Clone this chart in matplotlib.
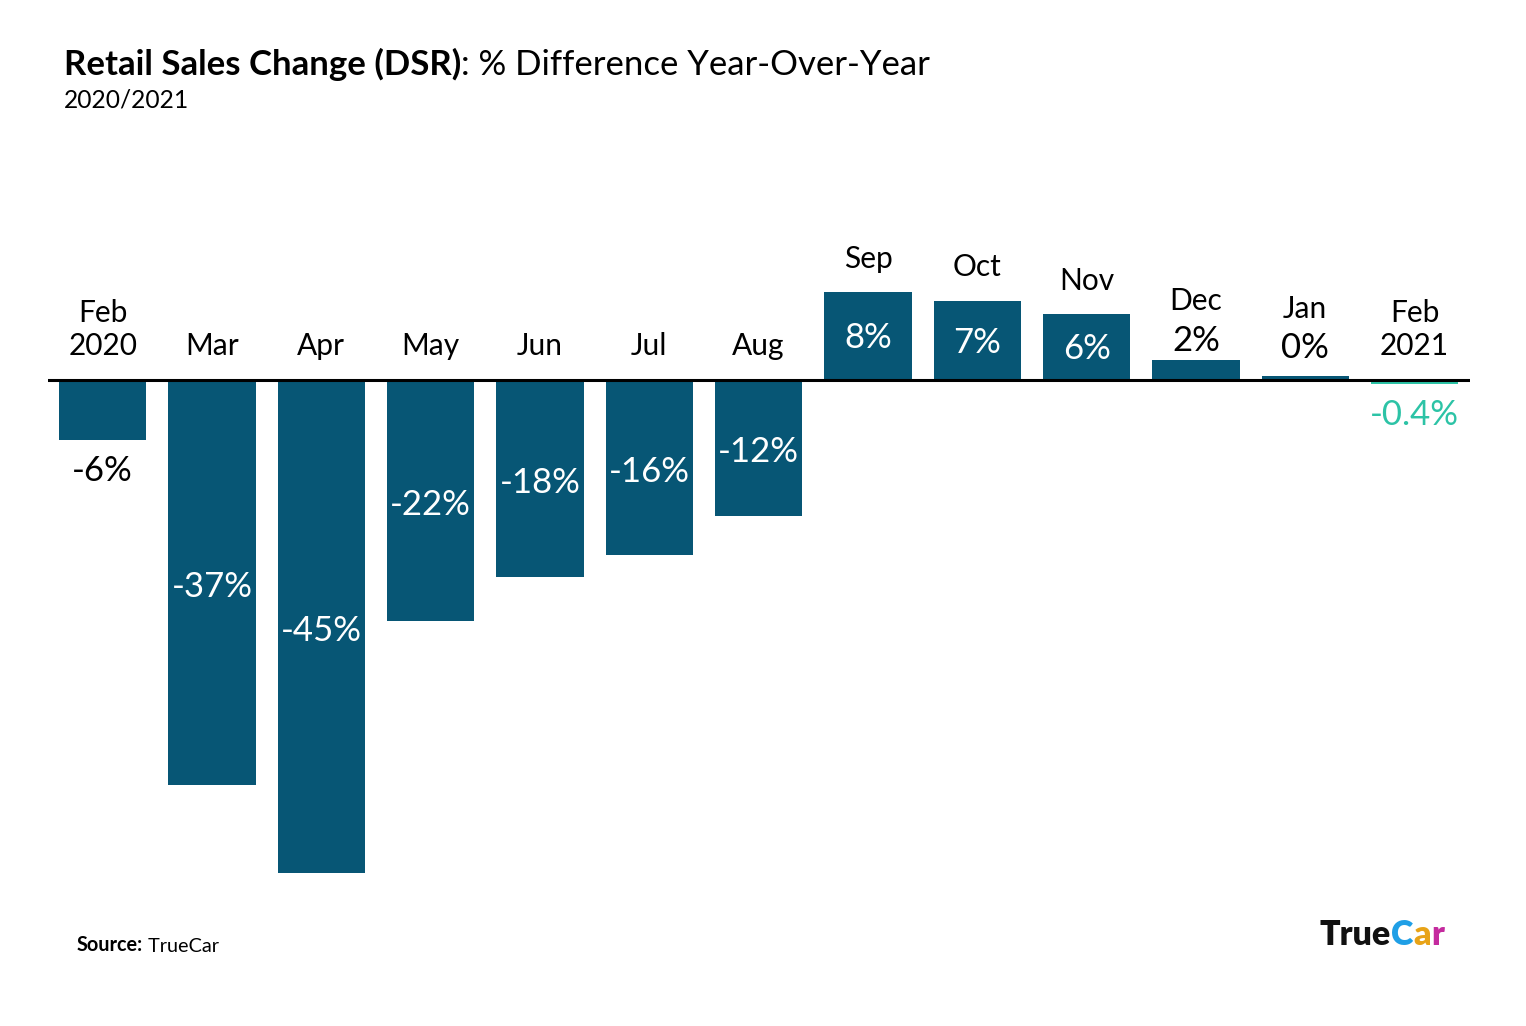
import matplotlib
matplotlib.use('Agg')
import matplotlib.pyplot as plt
from matplotlib.text import Annotation
import numpy as np

plt.rcParams['font.family'] = ['Lato', 'DejaVu Sans']

# data
months = ['Feb\n2020', 'Mar', 'Apr', 'May', 'Jun', 'Jul', 'Aug',
          'Sep', 'Oct', 'Nov', 'Dec', 'Jan', 'Feb\n2021']
values = [-5.5, -37, -45, -22, -18, -16, -12.4, 8, 7.2, 6, 1.8, 0.35, -0.4]
labels = ['-6%', '-37%', '-45%', '-22%', '-18%', '-16%', '-12%',
          '8%', '7%', '6%', '2%', '0%', '-0.4%']

BLUE = '#075675'
TEAL = '#2cc3a6'

fig = plt.figure(figsize=(15.26, 10.26), dpi=100)
ax = fig.add_axes([0.0315, 0.1277, 0.932, 0.630])

x = np.arange(len(months))
colors = [BLUE] * (len(months) - 1) + [TEAL]
ax.bar(x, values, width=0.8, color=colors, zorder=2)
ax.axhline(0, color='black', lw=2.2, zorder=3)
ax.set_xlim(-0.5, 12.51)
ax.set_ylim(-47, 12)
ax.axis('off')

mfs = 21.5   # month label size
vfs = 25     # value label size
last_i = len(months) - 1
for i, (v, m, lab) in enumerate(zip(values, months, labels)):
    if v < 0:
        ax.text(i, 1.8, m, ha='center', va='bottom', fontsize=mfs, linespacing=1.22)
        if i in (0, last_i):
            ax.text(i, v - 1.3, lab, ha='center', va='top', fontsize=vfs,
                    color=TEAL if i == last_i else 'black')
        else:
            ax.text(i, v / 2 - 0.4, lab, ha='center', va='center', fontsize=vfs,
                    color='white')
    elif v > 5:
        ax.text(i, v / 2 - 0.2, lab, ha='center', va='center', fontsize=vfs, color='white')
        ax.text(i, v + 1.8, m, ha='center', va='bottom', fontsize=mfs)
    else:
        # small bars: value above the bar, month above the value
        t = ax.text(i, max(v + 1.8, 2.9), lab, ha='center', va='center', fontsize=vfs)
        ax.annotate(m, xy=(0.5, 1), xycoords=t, xytext=(0, 7),
                    textcoords='offset points', ha='center', va='bottom', fontsize=mfs)

# title: bold part + regular part
t1 = fig.text(64 / 1526, 1 - 81 / 1026, 'Retail Sales Change (DSR)', fontsize=25,
              fontweight='bold', ha='left', va='bottom')
fig.add_artist(Annotation(': % Difference Year-Over-Year', xy=(1, 0), xycoords=t1,
                          fontsize=25, ha='left', va='bottom'))
fig.text(64 / 1526, 1 - 112 / 1026, '2020/2021', fontsize=17.7, ha='left', va='bottom')

# source
s1 = fig.text(77 / 1526, 1 - 955 / 1026, 'Source:', fontsize=14.3, fontweight='bold',
              ha='left', va='bottom')
fig.add_artist(Annotation(' TrueCar', xy=(1, 0), xycoords=s1, fontsize=14.3,
                          ha='left', va='bottom'))

# logo
l1 = fig.text(1320 / 1526, 1 - 951 / 1026, 'True', fontsize=24.5, fontweight='heavy',
              ha='left', va='bottom', color='#111111')
prev = l1
for ch, c in zip('Car', ['#1f9fe6', '#e8a317', '#c42a9e']):
    a = Annotation(ch, xy=(1, 0), xycoords=prev, fontsize=24.5, fontweight='heavy',
                   ha='left', va='bottom', color=c)
    fig.add_artist(a)
    prev = a

fig.savefig('out.png', dpi=100, facecolor='white')
